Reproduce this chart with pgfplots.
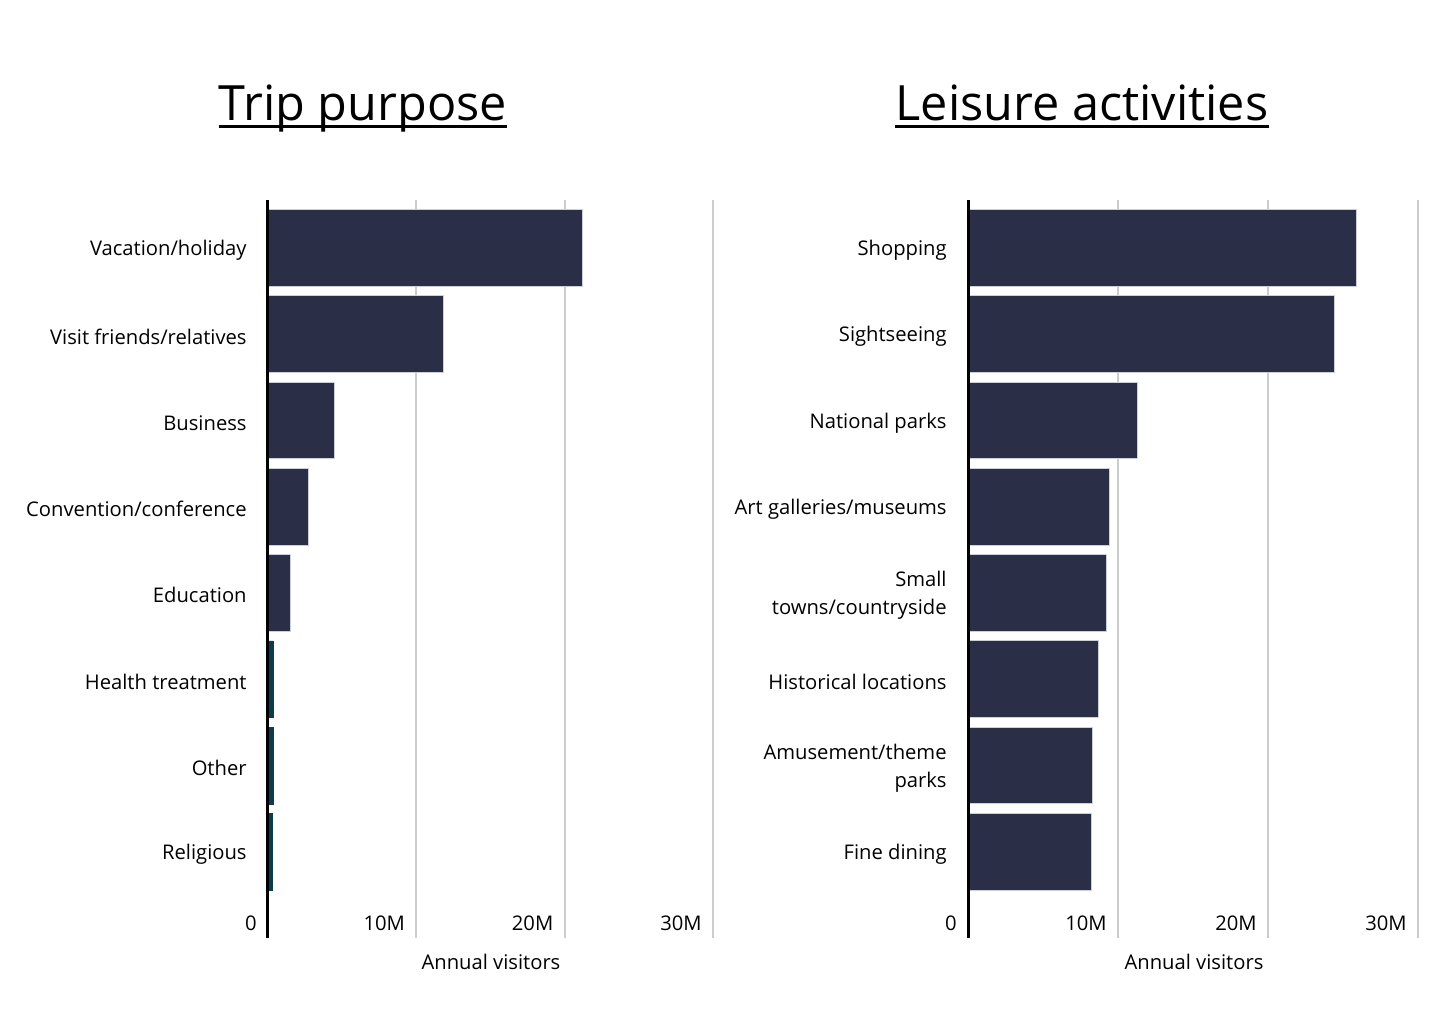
\documentclass[border=0pt]{standalone}
\usepackage{pgfplots}
\pgfplotsset{compat=1.18}
\usepackage{pgfplotstable}
\usepackage{fontspec}
\setmainfont{Open Sans}
\definecolor{barc}{RGB}{42,46,71}
\definecolor{tealc}{RGB}{14,58,78}
\definecolor{gridc}{RGB}{204,204,204}
\definecolor{edgec}{RGB}{205,208,216}

% Trip purpose (index 7 = top)
\pgfplotstableread{
idx val
7 21.2
6 11.8
5 4.5
4 2.7
3 1.5
}\tripmain
\pgfplotstableread{
idx val
2 0.35
1 0.35
0 0.3
}\tripsmall
% Leisure activities
\pgfplotstableread{
idx val
7 25.9
6 24.4
5 11.3
4 9.4
3 9.2
2 8.7
1 8.3
0 8.2
}\leisure

\pgfplotsset{panel/.style={
  anchor=south west, scale only axis, height=369pt,
  xmin=0, xmax=30, ymin=-1, ymax=7.556,
  xtick={0,10,20,30}, xticklabels={0,10M,20M,30M},
  ytick={0,1,2,3,4,5,6,7},
  xmajorgrids, grid style={gridc, line width=1pt},
  major tick length=0pt,
  axis line style={draw=none},
  clip=false,
  ticklabel style={font=\fontsize{10.1}{14}\selectfont},
  xticklabel style={anchor=base east, inner sep=0pt, xshift=-5.5pt, yshift=4pt},
  yticklabel style={anchor=east, inner sep=0pt, xshift=-10.5pt, yshift=-1.2pt, align=right},
  xbar, bar width=0.89, bar shift=0pt,
}}

\begin{document}
\begin{tikzpicture}[x=1pt,y=1pt]
\useasboundingbox (0,0) rectangle (725,506);

\begin{axis}[panel, at={(134pt,37pt)}, width=222.5pt,
  yticklabels={Religious,Other,Health treatment,Education,Convention/conference,Business,Visit friends/relatives,Vacation/holiday}]
\addplot[fill=barc, draw=edgec, line width=0.4pt] table[x=val,y=idx] {\tripmain};
\addplot[fill=tealc, draw=tealc, line width=0.2pt] table[x=val,y=idx] {\tripsmall};
\draw[black, line width=1.5pt] (axis cs:0,-1) -- (axis cs:0,7.556);
\end{axis}

\begin{axis}[panel, at={(484pt,37pt)}, width=225pt,
  yticklabels={Fine dining,{Amusement/theme\\parks},Historical locations,{Small\\towns/countryside},Art galleries/museums,National parks,Sightseeing,Shopping}]
\addplot[fill=barc, draw=edgec, line width=0.4pt] table[x=val,y=idx] {\leisure};
\draw[black, line width=1.5pt] (axis cs:0,-1) -- (axis cs:0,7.556);
\end{axis}

\node[anchor=base, inner sep=0pt, font=\fontsize{10.1}{14}\selectfont] at (245.5,21.5) {Annual visitors};
\node[anchor=base, inner sep=0pt, font=\fontsize{10.1}{14}\selectfont] at (597,21.5) {Annual visitors};

\node[anchor=base, inner sep=0pt, font=\fontsize{24.3}{28}\selectfont] (t1) at (181.5,445.5) {Trip purpose};
\draw[line width=1.5pt] ([yshift=-2.8pt]t1.base west) -- ([yshift=-2.8pt]t1.base east);
\node[anchor=base, inner sep=0pt, font=\fontsize{24.3}{28}\selectfont] (t2) at (541,445.5) {Leisure activities};
\draw[line width=1.5pt] ([yshift=-2.8pt]t2.base west) -- ([yshift=-2.8pt]t2.base east);
\end{tikzpicture}
\end{document}
